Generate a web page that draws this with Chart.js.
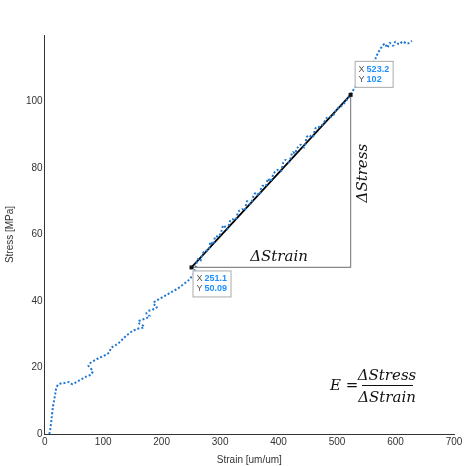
<!DOCTYPE html>
<html>
<head>
<script src="https://cdn.jsdelivr.net/npm/chart.js@4/dist/chart.umd.min.js"></script>
<style>body{margin:0;background:#fff}#wrap{width:474px;height:466px}</style>
</head>
<body>
<div id="wrap"><canvas id="c"></canvas></div>
<script>
// strain [um/um] and stress [MPa]
const strain = [8,10,12,14,16,18,19,20,24,30,36,42,45,48,52,58,64,70,76,80,82,78,75,76,80,86,92,100,106,110,112,113,116,122,128,134,140,146,150,156,162,168,170,166,162,160,164,170,176,180,176,174,178,184,190,192,188,186,190,196,202,208,214,218,222,228,234,240,246,250,254,258,262,266,270,274,280,284,288,292,298,302,306,312,318,322,326,332,338,342,346,352,358,362,366,372,378,382,386,392,398,404,408,412,418,424,428,432,438,444,448,452,458,464,470,476,482,488,494,500,506,512,518,523,526,530,534,540,546,552,556,558,560,562,566,570,574,578,582,586,590,596,600,606,612,620,628];
const stress = [0,2,5,8,10,12,13,14,15,15.2,15.4,15.6,15.2,15,15.4,16,16.6,17.2,17.6,18,19,19.8,20.5,21,21.6,22.2,22.8,23.4,24,24.5,25.2,25.8,26.2,26.8,27.6,28.6,29.6,30.4,31,31.4,31.8,32,32.4,32.8,33.2,33.8,34.2,34.6,35,35.4,35.8,36.4,37,37.4,37.8,38.4,38.8,39.4,40,40.6,41.2,41.8,42.4,42.8,43.2,43.8,44.6,45.4,46.2,47,48,50,52.6,52,54.2,55,55.4,57.8,57,59.4,59.4,61,62.8,61.6,64.4,64.6,64.4,67,67.6,67.2,70,69.2,72,72.6,71.8,74.6,74.6,76.8,76,78.4,79.4,79,81.6,82.4,81.8,84.8,84.4,86,87,86.2,89.2,89.8,89.2,92.2,92.4,93.2,95,95.2,96,97.8,98.4,99.4,100.8,102,103,104,105.2,106,106.8,107.6,108.4,109.4,110.6,111.6,113,114.6,115.8,116.8,117.4,116.2,117.6,116.8,118,117.2,118,117.4,118.2,117.6];
const fitX = [251.1, 523.2];
const fitY = [50.09, 102];
const xTicks = [0,100,200,300,400,500,600,700];
const yTicks = [0,20,40,60,80,100];

const curve = strain.map((x, i) => ({x: x, y: stress[i]}));
const fit = fitX.map((x, i) => ({x: x, y: fitY[i]}));

function tipBox(ctx, x, y, lines) {
  const w = 38, h = 26;
  ctx.fillStyle = 'rgba(255,255,255,0.95)';
  ctx.fillRect(x, y, w, h);
  ctx.strokeStyle = '#aaa';
  ctx.lineWidth = 1;
  ctx.strokeRect(x + 0.5, y + 0.5, w, h);
  lines.forEach((l, i) => {
    ctx.font = '9px "Liberation Sans", Arial, sans-serif';
    ctx.fillStyle = '#555';
    ctx.fillText(l[0], x + 4, y + 11 + i * 10);
    ctx.font = 'bold 9px "Liberation Sans", Arial, sans-serif';
    ctx.fillStyle = '#1e90ff';
    ctx.fillText(l[1], x + 12, y + 11 + i * 10);
  });
}

const extras = {
  id: 'extras',
  afterDatasetsDraw(chart) {
    const ctx = chart.ctx, sx = chart.scales.x, sy = chart.scales.y;
    const x0 = sx.getPixelForValue(fitX[0]), x1 = sx.getPixelForValue(fitX[1]);
    const y0 = sy.getPixelForValue(fitY[0]), y1 = sy.getPixelForValue(fitY[1]);
    ctx.save();
    ctx.strokeStyle = '#888';
    ctx.lineWidth = 1.2;
    ctx.beginPath();
    ctx.moveTo(x0, y0); ctx.lineTo(x1, y0); ctx.lineTo(x1, y1);
    ctx.stroke();
    ctx.fillStyle = '#111';
    ctx.fillRect(x0 - 2, y0 - 2, 4, 4);
    ctx.fillRect(x1 - 2, y1 - 2, 4, 4);
    ctx.font = 'italic 15px "DejaVu Serif", serif';
    ctx.textAlign = 'center';
    ctx.fillText('\u0394Strain', (x0 + x1) / 2 + 8, y0 - 6);
    ctx.save();
    ctx.translate(x1 + 16, (y0 + y1) / 2 - 8);
    ctx.rotate(-Math.PI / 2);
    ctx.fillText('\u0394Stress', 0, 0);
    ctx.restore();
    ctx.textAlign = 'left';
    ctx.fillText('E =', 330, 390);
    ctx.textAlign = 'center';
    ctx.fillText('\u0394Stress', 387, 380);
    ctx.fillText('\u0394Strain', 387, 402);
    ctx.fillRect(362, 385, 51, 1);
    ctx.textAlign = 'left';
    tipBox(ctx, x0 + 1, y0 + 3, [['X', '251.1'], ['Y', '50.09']]);
    tipBox(ctx, x1 + 4, y1 - 34, [['X', '523.2'], ['Y', '102']]);
    ctx.restore();
  }
};

new Chart(document.getElementById('c'), {
  type: 'scatter',
  data: {
    datasets: [
      {data: curve, showLine: true, borderColor: '#1f77d0', borderWidth: 2,
       borderDash: [2, 2], pointRadius: 0, tension: 0.3},
      {data: fit, showLine: true, borderColor: '#000', borderWidth: 1.8, pointRadius: 0}
    ]
  },
  options: {
    responsive: true,
    maintainAspectRatio: false,
    animation: false,
    layout: {padding: {right: 20, top: 35}},
    plugins: {legend: {display: false}, tooltip: {enabled: false}},
    scales: {
      x: {
        min: 0, max: 700,
        afterBuildTicks: a => { a.ticks = xTicks.map(v => ({value: v})); },
        grid: {display: false, tickLength: -4},
        border: {color: '#333'},
        ticks: {color: '#333', font: {size: 10}, padding: 6},
        title: {display: true, text: 'Strain [um/um]', color: '#333', font: {size: 10}, padding: 0}
      },
      y: {
        min: 0, max: 120,
        afterBuildTicks: a => { a.ticks = yTicks.map(v => ({value: v})); },
        grid: {display: false, tickLength: -4},
        border: {color: '#333'},
        ticks: {color: '#333', font: {size: 10}, padding: 6},
        title: {display: true, text: 'Stress [MPa]', color: '#333', font: {size: 10}}
      }
    }
  },
  plugins: [extras]
});
</script>
</body>
</html>
